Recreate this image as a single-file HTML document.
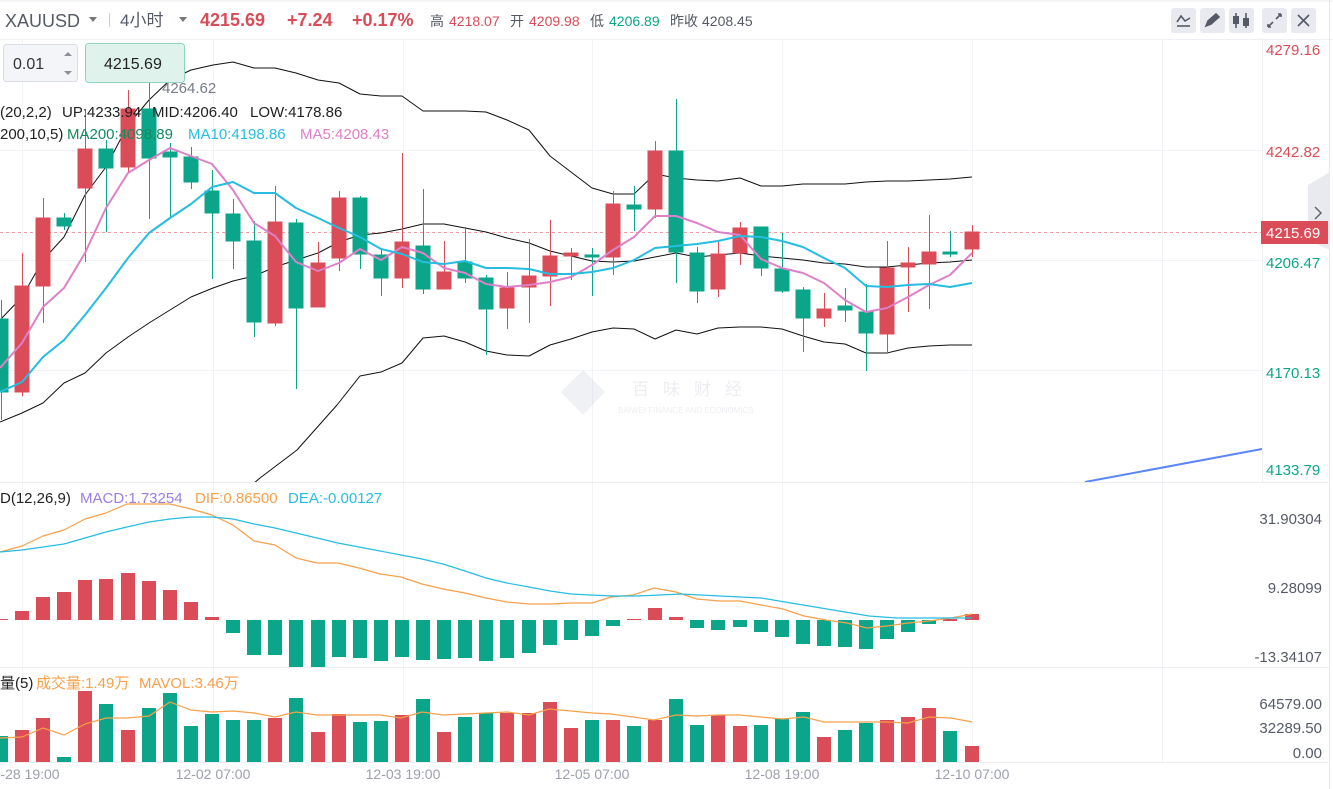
<!DOCTYPE html>
<html><head><meta charset="utf-8"><style>
html,body{margin:0;padding:0;background:#fff;}
body{width:1333px;height:789px;overflow:hidden;position:relative;font-family:"Liberation Sans","Noto Sans CJK SC",sans-serif;}
</style></head><body>
<svg width="1333" height="789" style="position:absolute;left:0;top:0" font-family="Liberation Sans, Noto Sans CJK SC, sans-serif">
<defs><clipPath id="mp"><rect x="0" y="40" width="1262" height="442"/></clipPath></defs>
<rect x="0" y="0" width="1333" height="789" fill="#fff"/>
<line x1="0" y1="1" x2="1333" y2="1" stroke="#e8eaee"/>
<line x1="0" y1="39.5" x2="1333" y2="39.5" stroke="#eef0f3"/>
<line x1="1329.5" y1="0" x2="1329.5" y2="789" stroke="#e6e8ec"/>
<g stroke="#f2f3f6" stroke-width="1">
<line x1="0" y1="150.5" x2="1262" y2="150.5"/><line x1="0" y1="260.5" x2="1262" y2="260.5"/><line x1="0" y1="370.5" x2="1262" y2="370.5"/>
<line x1="22.5" y1="40" x2="22.5" y2="762"/><line x1="213.5" y1="40" x2="213.5" y2="762"/><line x1="403.5" y1="40" x2="403.5" y2="762"/>
<line x1="592.5" y1="40" x2="592.5" y2="762"/><line x1="782.5" y1="40" x2="782.5" y2="762"/><line x1="972.5" y1="40" x2="972.5" y2="762"/>
<line x1="1162.5" y1="40" x2="1162.5" y2="762"/>
</g>
<g stroke="#eceef2"><line x1="0" y1="482.5" x2="1330" y2="482.5"/><line x1="0" y1="667.5" x2="1330" y2="667.5"/><line x1="0" y1="762.5" x2="1330" y2="762.5"/><line x1="1262.5" y1="40" x2="1262.5" y2="482"/></g>
<g opacity="0.35">
<polygon points="583,370 605,392 583,415 561,392" fill="#d6d9e0"/>
<text x="632" y="395" font-size="17" fill="#c9cdd6" letter-spacing="14">百味财经</text>
<text x="618" y="413" font-size="8" fill="#c9cdd6">BAIWEI FINANCE AND ECONOMICS</text>
</g>
<line x1="0" y1="232.5" x2="1262" y2="232.5" stroke="#f29aa2" stroke-dasharray="3,3"/>
<g clip-path="url(#mp)" fill="none" stroke-linejoin="round">
<polyline stroke="#111" stroke-width="1" points="0,320 22,297 43,260 64,237 85,195 106,167 128,125 149,100 170,80 191,70 213,65 233,62 254,68 275,68 296,73 318,80 339,83 360,94 381,96 402,96 423,111 444,111 465,111 486,112 507,120 529,130 550,156 571,172 592,188 613,194 634,194 655,174 676,178 697,180 718,181 740,178 761,186 782,186 803,184 824,184 845,184 866,182 887,181 908,181 929,180 950,179 972,177"/>
<polyline stroke="#111" stroke-width="1" points="0,422 22,413 43,403 64,383 85,373 106,353 128,337 149,323 170,310 191,297 213,288 233,281 254,276 275,267 296,260 318,253 339,242 360,235 381,233 402,229 423,224 444,224 465,228 486,232 507,238 529,243 550,251 571,256 592,261 613,262 634,261 655,257 676,253 697,257 718,255 740,253 761,256 782,258 803,260 824,263 845,264 866,267 887,267 908,265 929,263 950,262 972,260"/>
<polyline stroke="#111" stroke-width="1" points="240,495 260,478 297,450 337,405 360,376 381,372 402,363 423,338 444,336 465,342 486,351 507,355 529,356 550,345 571,339 592,332 613,328 634,329 655,339 676,330 697,334 718,328 740,327 761,327 782,329 803,336 824,342 845,344 866,353 887,353 908,348 929,346 950,345 972,345"/>
<line x1="1085" y1="482" x2="1262" y2="449" stroke="#5b86f5" stroke-width="2"/>
</g>
<g stroke-width="1">
<g stroke="#0ba58a" fill="#0ba58a">
<line x1="1.5" y1="300" x2="1.5" y2="420"/><rect x="-6" y="319" width="14" height="73"/>
<line x1="64.5" y1="213" x2="64.5" y2="230"/><rect x="57" y="218" width="14" height="8"/>
<line x1="106.5" y1="140" x2="106.5" y2="232"/><rect x="99" y="149" width="14" height="19"/>
<line x1="149.5" y1="82" x2="149.5" y2="219"/><rect x="142" y="109" width="14" height="49"/>
<line x1="170.5" y1="143" x2="170.5" y2="217"/><rect x="163" y="152" width="14" height="5"/>
<line x1="191.5" y1="147" x2="191.5" y2="189"/><rect x="184" y="157" width="14" height="25"/>
<line x1="212.5" y1="170" x2="212.5" y2="279"/><rect x="205" y="191" width="14" height="22"/>
<line x1="233.5" y1="199" x2="233.5" y2="269"/><rect x="226" y="214" width="14" height="27"/>
<line x1="254.5" y1="221" x2="254.5" y2="337"/><rect x="247" y="241" width="14" height="81"/>
<line x1="296.5" y1="219" x2="296.5" y2="389"/><rect x="289" y="223" width="14" height="85"/>
<line x1="360.5" y1="196" x2="360.5" y2="269"/><rect x="353" y="198" width="14" height="56"/>
<line x1="381.5" y1="248" x2="381.5" y2="296"/><rect x="374" y="255" width="14" height="23"/>
<line x1="423.5" y1="189" x2="423.5" y2="294"/><rect x="416" y="246" width="14" height="43"/>
<line x1="465.5" y1="227" x2="465.5" y2="283"/><rect x="458" y="262" width="14" height="16"/>
<line x1="486.5" y1="275" x2="486.5" y2="355"/><rect x="479" y="278" width="14" height="31"/>
<line x1="592.5" y1="248" x2="592.5" y2="296"/><rect x="585" y="255" width="14" height="2"/>
<line x1="634.5" y1="186" x2="634.5" y2="231"/><rect x="627" y="205" width="14" height="4"/>
<line x1="676.5" y1="99" x2="676.5" y2="283"/><rect x="669" y="151" width="14" height="101"/>
<line x1="697.5" y1="247" x2="697.5" y2="303"/><rect x="690" y="253" width="14" height="38"/>
<line x1="761.5" y1="227" x2="761.5" y2="276"/><rect x="754" y="227" width="14" height="41"/>
<line x1="782.5" y1="233" x2="782.5" y2="293"/><rect x="775" y="269" width="14" height="22"/>
<line x1="803.5" y1="287" x2="803.5" y2="352"/><rect x="796" y="290" width="14" height="28"/>
<line x1="845.5" y1="288" x2="845.5" y2="322"/><rect x="838" y="306" width="14" height="4"/>
<line x1="866.5" y1="284" x2="866.5" y2="371"/><rect x="859" y="312" width="14" height="21"/>
<line x1="950.5" y1="231" x2="950.5" y2="257"/><rect x="943" y="252" width="14" height="2"/>
</g>
<g stroke="#d94c58" fill="#d94c58">
<line x1="22.5" y1="253" x2="22.5" y2="396"/><rect x="15" y="286" width="14" height="106"/>
<line x1="43.5" y1="198" x2="43.5" y2="323"/><rect x="36" y="218" width="14" height="68"/>
<line x1="85.5" y1="110" x2="85.5" y2="262"/><rect x="78" y="149" width="14" height="39"/>
<line x1="128.5" y1="90" x2="128.5" y2="172"/><rect x="121" y="109" width="14" height="58"/>
<line x1="275.5" y1="186" x2="275.5" y2="326"/><rect x="268" y="222" width="14" height="101"/>
<line x1="318.5" y1="242" x2="318.5" y2="307"/><rect x="311" y="263" width="14" height="44"/>
<line x1="339.5" y1="191" x2="339.5" y2="271"/><rect x="332" y="198" width="14" height="60"/>
<line x1="402.5" y1="153" x2="402.5" y2="288"/><rect x="395" y="242" width="14" height="36"/>
<line x1="444.5" y1="241" x2="444.5" y2="289"/><rect x="437" y="272" width="14" height="17"/>
<line x1="507.5" y1="272" x2="507.5" y2="329"/><rect x="500" y="288" width="14" height="20"/>
<line x1="529.5" y1="239" x2="529.5" y2="323"/><rect x="522" y="276" width="14" height="11"/>
<line x1="550.5" y1="220" x2="550.5" y2="306"/><rect x="543" y="256" width="14" height="20"/>
<line x1="571.5" y1="248" x2="571.5" y2="280"/><rect x="564" y="253" width="14" height="3"/>
<line x1="613.5" y1="191" x2="613.5" y2="275"/><rect x="606" y="204" width="14" height="53"/>
<line x1="655.5" y1="141" x2="655.5" y2="218"/><rect x="648" y="151" width="14" height="58"/>
<line x1="718.5" y1="242" x2="718.5" y2="297"/><rect x="711" y="254" width="14" height="35"/>
<line x1="740.5" y1="222" x2="740.5" y2="265"/><rect x="733" y="228" width="14" height="25"/>
<line x1="824.5" y1="293" x2="824.5" y2="327"/><rect x="817" y="309" width="14" height="9"/>
<line x1="887.5" y1="241" x2="887.5" y2="353"/><rect x="880" y="268" width="14" height="66"/>
<line x1="908.5" y1="247" x2="908.5" y2="312"/><rect x="901" y="263" width="14" height="4"/>
<line x1="929.5" y1="215" x2="929.5" y2="309"/><rect x="922" y="252" width="14" height="12"/>
<line x1="972.5" y1="225" x2="972.5" y2="257"/><rect x="965" y="232" width="14" height="17"/>
</g>
</g>
<g fill="none" stroke-linejoin="round" stroke-width="2">
<polyline stroke="#dd80c8" points="0,368 22,343 43,307 64,288 85,253 106,208 128,173 149,160 170,148 191,156 212,164 233,190 254,223 275,236 296,262 318,271 339,263 360,249 381,260 402,247 423,253 444,268 465,273 486,284 507,287 529,285 550,282 571,277 592,265 613,250 634,237 655,216 676,216 697,223 718,232 740,235 761,259 782,268 803,273 824,283 845,300 866,312 887,308 908,297 929,285 950,275 972,253"/>
<polyline stroke="#26bde0" points="0,392 22,382 43,357 64,340 85,315 106,288 128,258 149,233 170,218 191,204 212,187 233,182 254,193 275,193 296,208 318,218 339,228 360,237 381,249 402,254 423,262 444,264 465,261 486,268 507,268 529,269 550,274 571,274 592,272 613,268 634,260 655,248 676,246 697,244 718,241 740,236 761,237 782,241 803,247 824,258 845,268 866,286 887,287 908,285 929,284 950,287 972,283"/>
</g>
<g fill="#d94c58">
<rect x="-6" y="619" width="14" height="1"/><rect x="15" y="611" width="14" height="9"/><rect x="36" y="597" width="14" height="23"/><rect x="57" y="592" width="14" height="28"/><rect x="78" y="580" width="14" height="40"/><rect x="99" y="579" width="14" height="41"/><rect x="121" y="573" width="14" height="47"/><rect x="142" y="581" width="14" height="39"/><rect x="163" y="590" width="14" height="30"/><rect x="184" y="602" width="14" height="18"/><rect x="205" y="617" width="14" height="3"/>
<rect x="627" y="619" width="14" height="1"/><rect x="648" y="608" width="14" height="12"/><rect x="669" y="617" width="14" height="3"/><rect x="943" y="619" width="14" height="2"/><rect x="965" y="614" width="14" height="6"/>
</g>
<g fill="#0ba58a">
<rect x="226" y="620" width="14" height="13"/><rect x="247" y="620" width="14" height="35"/><rect x="268" y="620" width="14" height="35"/><rect x="289" y="620" width="14" height="47"/><rect x="311" y="620" width="14" height="47"/><rect x="332" y="620" width="14" height="37"/><rect x="353" y="620" width="14" height="38"/><rect x="374" y="620" width="14" height="41"/><rect x="395" y="620" width="14" height="37"/><rect x="416" y="620" width="14" height="40"/><rect x="437" y="620" width="14" height="39"/><rect x="458" y="620" width="14" height="38"/><rect x="479" y="620" width="14" height="41"/><rect x="500" y="620" width="14" height="38"/><rect x="522" y="620" width="14" height="33"/><rect x="543" y="620" width="14" height="25"/><rect x="564" y="620" width="14" height="20"/><rect x="585" y="620" width="14" height="16"/><rect x="606" y="620" width="14" height="6"/>
<rect x="690" y="620" width="14" height="8"/><rect x="711" y="620" width="14" height="10"/><rect x="733" y="620" width="14" height="7"/><rect x="754" y="620" width="14" height="12"/><rect x="775" y="620" width="14" height="17"/><rect x="796" y="620" width="14" height="24"/><rect x="817" y="620" width="14" height="26"/><rect x="838" y="620" width="14" height="27"/><rect x="859" y="620" width="14" height="29"/><rect x="880" y="620" width="14" height="19"/><rect x="901" y="620" width="14" height="12"/><rect x="922" y="620" width="14" height="4"/>
</g>
<g fill="none" stroke-width="1.2" stroke-linejoin="round">
<polyline stroke="#f8a04a" points="0,552 22,546 43,536 64,530 85,519 106,513 127,504 149,504 170,504 191,509 212,515 233,525 254,541 275,545 296,558 317,563 338,563 359,568 380,574 401,577 422,584 443,589 465,593 486,598 507,602 529,604 550,604 571,603 592,603 611,597 633,595 654,588 676,592 697,599 719,601 740,601 761,605 783,609 804,616 826,620 847,623 867,628 887,626 908,623 929,621 951,618 972,614"/>
<polyline stroke="#26bde0" points="0,552 22,550 43,547 64,544 85,538 106,532 127,527 149,522 170,519 191,517 212,517 233,519 254,524 275,528 296,533 317,538 338,543 359,547 380,551 401,555 422,559 443,564 465,571 486,578 507,583 529,587 550,591 571,594 590,595 614,596 638,596 660,595 681,594 720,596 761,598 797,604 833,610 869,616 897,618 935,618 972,618"/>
</g>
<g fill="#0ba58a">
<rect x="-6" y="736" width="14" height="26"/><rect x="57" y="757" width="14" height="5"/><rect x="99" y="704" width="14" height="58"/><rect x="142" y="708" width="14" height="54"/><rect x="163" y="693" width="14" height="69"/><rect x="184" y="726" width="14" height="36"/><rect x="205" y="714" width="14" height="48"/><rect x="226" y="720" width="14" height="42"/><rect x="247" y="720" width="14" height="42"/><rect x="289" y="698" width="14" height="64"/><rect x="353" y="722" width="14" height="40"/><rect x="374" y="721" width="14" height="41"/><rect x="416" y="699" width="14" height="63"/><rect x="458" y="717" width="14" height="45"/><rect x="479" y="713" width="14" height="49"/><rect x="585" y="720" width="14" height="42"/><rect x="627" y="726" width="14" height="36"/><rect x="669" y="699" width="14" height="63"/><rect x="690" y="725" width="14" height="37"/><rect x="754" y="725" width="14" height="37"/><rect x="775" y="719" width="14" height="43"/><rect x="796" y="712" width="14" height="50"/><rect x="838" y="730" width="14" height="32"/><rect x="859" y="723" width="14" height="39"/><rect x="943" y="731" width="14" height="31"/>
</g>
<g fill="#d94c58">
<rect x="15" y="730" width="14" height="32"/><rect x="36" y="718" width="14" height="44"/><rect x="78" y="691" width="14" height="71"/><rect x="121" y="730" width="14" height="32"/><rect x="268" y="718" width="14" height="44"/><rect x="311" y="732" width="14" height="30"/><rect x="332" y="714" width="14" height="48"/><rect x="395" y="715" width="14" height="47"/><rect x="437" y="732" width="14" height="30"/><rect x="500" y="713" width="14" height="49"/><rect x="522" y="713" width="14" height="49"/><rect x="543" y="702" width="14" height="60"/><rect x="564" y="728" width="14" height="34"/><rect x="606" y="720" width="14" height="42"/><rect x="648" y="720" width="14" height="42"/><rect x="711" y="715" width="14" height="47"/><rect x="733" y="726" width="14" height="36"/><rect x="817" y="737" width="14" height="25"/><rect x="880" y="720" width="14" height="42"/><rect x="901" y="717" width="14" height="45"/><rect x="922" y="708" width="14" height="54"/><rect x="965" y="746" width="14" height="16"/>
</g>
<polyline fill="none" stroke="#f8a04a" stroke-width="1.2" points="0,738 22,737 43,728 64,735 85,724 106,718 127,718 149,716 170,702 191,710 212,712 233,711 254,713 275,717 296,712 317,715 338,715 359,715 380,715 401,718 422,712 443,715 465,714 486,713 507,712 529,715 549,709 571,711 592,713 611,714 633,717 654,720 676,715 697,716 719,715 740,715 761,717 783,719 804,717 824,722 845,722 867,722 887,722 908,723 929,717 951,718 972,722"/>
<g font-size="15">
<text x="1266" y="55" fill="#d94c58">4279.16</text>
<text x="1266" y="157" fill="#d94c58">4242.82</text>
<text x="1266" y="268" fill="#0ba58a">4206.47</text>
<text x="1266" y="378" fill="#0ba58a">4170.13</text>
<text x="1266" y="475" fill="#0ba58a">4133.79</text>
<text x="1322" y="524" fill="#555a66" text-anchor="end">31.90304</text>
<text x="1322" y="593" fill="#555a66" text-anchor="end">9.28099</text>
<text x="1322" y="662" fill="#555a66" text-anchor="end">-13.34107</text>
<text x="1322" y="709" fill="#555a66" text-anchor="end">64579.00</text>
<text x="1322" y="733" fill="#555a66" text-anchor="end">32289.50</text>
<text x="1322" y="758" fill="#555a66" text-anchor="end">0.00</text>
</g>
<g font-size="14" fill="#9da1ad" text-anchor="middle"><text x="30" y="779">-28 19:00</text><text x="213" y="779">12-02 07:00</text><text x="403" y="779">12-03 19:00</text><text x="592" y="779">12-05 07:00</text><text x="782" y="779">12-08 19:00</text><text x="972" y="779">12-10 07:00</text></g>
<path d="M1308 185 L1330 172 L1330 250 L1308 240 Z" fill="#e9eaef"/>
<rect x="1261" y="221" width="67" height="23" fill="#d94c58"/>
<text x="1266" y="238" font-size="15" fill="#fff">4215.69</text>
<path d="M1315 207 L1321 213 L1315 219" fill="none" stroke="#666" stroke-width="1.5"/>
<text x="162" y="93" font-size="15" fill="#777c88">4264.62</text>
<g font-size="15">
<text x="0" y="117" fill="#222">(20,2,2)</text>
<text x="62" y="117" fill="#222">UP:4233.94</text>
<text x="152" y="117" fill="#222">MID:4206.40</text>
<text x="250" y="117" fill="#222">LOW:4178.86</text>
<text x="0" y="139" fill="#222">200,10,5)</text>
<text x="67" y="139" fill="#158a5e">MA200:4098.89</text>
<text x="188" y="139" fill="#26bde0">MA10:4198.86</text>
<text x="300" y="139" fill="#dd80c8">MA5:4208.43</text>
<text x="0" y="503" fill="#222">D(12,26,9)</text>
<text x="80" y="503" fill="#9b7ee0">MACD:1.73254</text>
<text x="195" y="503" fill="#f8a04a">DIF:0.86500</text>
<text x="288" y="503" fill="#26bde0">DEA:-0.00127</text>
<text x="0" y="688" fill="#222">量(5)</text>
<text x="36" y="688" fill="#f8a04a">成交量:1.49万</text>
<text x="139" y="688" fill="#f8a04a">MAVOL:3.46万</text>
</g>
<text x="5" y="27" font-size="18" fill="#555a66">XAUUSD</text>
<path d="M89 17 L97 17 L93 22 Z" fill="#777"/>
<line x1="109.5" y1="13" x2="109.5" y2="27" stroke="#ccc"/>
<text x="120" y="26" font-size="17" fill="#555a66">4小时</text>
<path d="M179 17 L187 17 L183 22 Z" fill="#777"/>
<g font-size="18" font-weight="bold" fill="#d94c58"><text x="200" y="26">4215.69</text><text x="287" y="26">+7.24</text><text x="352" y="26">+0.17%</text></g>
<g font-size="14"><text x="430" y="26" fill="#555a66">高</text><text x="449" y="26" fill="#d94c58">4218.07</text><text x="510" y="26" fill="#555a66">开</text><text x="529" y="26" fill="#d94c58">4209.98</text><text x="590" y="26" fill="#555a66">低</text><text x="609" y="26" fill="#0ba58a">4206.89</text><text x="670" y="26" fill="#555a66">昨收</text><text x="702" y="26" fill="#555a66">4208.45</text></g>
<g fill="#e8eaef"><rect x="1171" y="8" width="25" height="25" rx="3"/><rect x="1200" y="8" width="25" height="25" rx="3"/><rect x="1229" y="8" width="25" height="25" rx="3"/><rect x="1262" y="8" width="25" height="25" rx="3"/><rect x="1291" y="8" width="25" height="25" rx="3"/></g>
<g stroke="#555a66" stroke-width="1.6" fill="none"><path d="M1177 22 L1181 16 L1185 21 L1190 18"/><line x1="1177" y1="26" x2="1190" y2="26"/><path d="M1206 26 L1208 21 L1216 14 L1219 17 L1211 24 Z" fill="#555a66"/><line x1="1236" y1="13" x2="1236" y2="28"/><line x1="1246" y1="13" x2="1246" y2="28"/><path d="M1268 27 L1273 22 M1268 27 L1268 24 M1268 27 L1271 27 M1281 14 L1276 19 M1281 14 L1278 14 M1281 14 L1281 17"/><path d="M1298 15 L1309 26 M1309 15 L1298 26"/></g>
<rect x="1233" y="16" width="6" height="8" fill="#555a66"/><rect x="1243" y="18" width="6" height="8" fill="#555a66"/>
<rect x="3.5" y="44.5" width="74" height="37" rx="3" fill="#f4f5f8" stroke="#d9dce2"/>
<text x="13" y="69" font-size="16" fill="#333">0.01</text>
<path d="M64 56 L68 52 L72 56 Z M64 71 L68 75 L72 71 Z" fill="#8a8f99"/>
<rect x="85.5" y="43.5" width="99" height="39" rx="3" fill="#dff3ec" stroke="#8fd6c0"/>
<text x="104" y="69" font-size="16" fill="#222">4215.69</text>
</svg>
</body></html>
